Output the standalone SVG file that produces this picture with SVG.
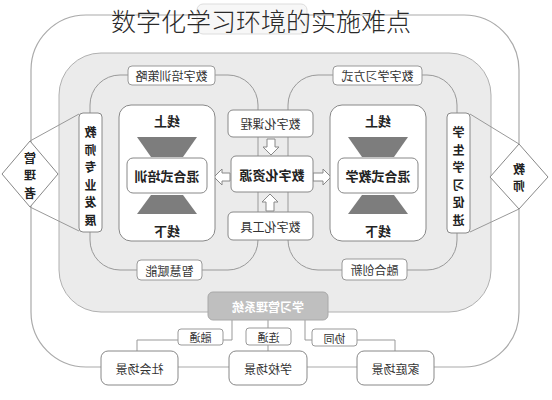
<svg xmlns="http://www.w3.org/2000/svg" width="552" height="400" viewBox="0 0 552 400">
<style>
text{font-family:"Noto Sans CJK SC","Noto Sans",sans-serif;dominant-baseline:central;text-anchor:middle;fill:#333}
.t{font-size:12px}
.b{font-size:13px;font-weight:bold;fill:#222}
.v{font-size:12px;font-weight:bold;fill:#222}
.lbl{fill:#fff;stroke:#999;stroke-width:1}
.box{fill:#fff;stroke:#888;stroke-width:1}
.ln{fill:none;stroke:#999;stroke-width:1}
.arr{fill:#fff;stroke:#888;stroke-width:1}
.trap{fill:#7d7d7d}
</style>
<rect id="outer-frame" x="31" y="15" width="488" height="352" rx="55" fill="#fff" stroke="#aaa" stroke-width="1.2"/>
<rect id="panel" x="59" y="53" width="432" height="259" rx="42" fill="#ebebeb" stroke="#b0b0b0" stroke-width="1"/>
<rect x="197" y="4" width="110" height="30" rx="6" fill="#f7f7f7" stroke="#ddd"/>
<g id="connectors">
<rect class="ln" x="90" y="75" width="168" height="195" rx="30"/>
<rect class="ln" x="288" y="75" width="169" height="195" rx="30"/>
<path class="ln" d="M30 141 L79 114 M30 207 L79 231 M470 114 L519 144 M470 232 L519 209"/>
<path class="ln" stroke="#777" d="M232 320 V340 H223 M178 340 H137 V351 M268 320 V328 M268 345 V351 M305 320 V340 H312 M357 340 H395 V351"/>
<path class="arr" d="M267 139 H275 V147 H279 L271 155 L263 147 H267 Z"/>
<path class="arr" d="M266 211 H274 V202 H278 L270 194 L262 202 H266 Z"/>
<path class="arr" d="M230 173 V181 H222 V185 L214 177 L222 169 V173 Z"/>
<path class="arr" d="M313 173 V181 H323 V185 L331 177 L323 169 V173 Z"/>
</g>
<g id="label-peixun"><rect class="lbl" x="128" y="66" width="87" height="19" rx="4"/><text class="t" x="171.5" y="75.5" transform="matrix(-1 0 0 1 343 0)">数字培训策略</text></g>
<g id="label-xuexi"><rect class="lbl" x="333" y="66" width="89" height="19" rx="4"/><text class="t" x="377.5" y="75.5" transform="matrix(-1 0 0 1 755 0)">数字学习方式</text></g>
<g id="label-zhihui"><rect class="lbl" x="137" y="260" width="65" height="20" rx="4"/><text class="t" x="169.5" y="270" transform="matrix(-1 0 0 1 339 0)">智慧赋能</text></g>
<g id="label-ronghe"><rect class="lbl" x="342" y="259" width="65" height="21" rx="4"/><text class="t" x="374.5" y="269.5" transform="matrix(-1 0 0 1 749 0)">融合创新</text></g>
<g id="node-jiaoshi-fazhan"><rect class="box" x="79" y="113" width="23" height="119" rx="4"/>
<text class="v" transform="matrix(-1 0 0 1 181 0)"><tspan x="90.5" y="131">教</tspan><tspan x="90.5" y="148.5">师</tspan><tspan x="90.5" y="166">专</tspan><tspan x="90.5" y="183.5">业</tspan><tspan x="90.5" y="201">发</tspan><tspan x="90.5" y="218.5">展</tspan></text></g>
<g id="node-xuesheng"><rect class="box" x="447" y="113" width="23" height="120" rx="4"/>
<text class="v" transform="matrix(-1 0 0 1 917 0)"><tspan x="458.5" y="131">学</tspan><tspan x="458.5" y="148.5">生</tspan><tspan x="458.5" y="166">学</tspan><tspan x="458.5" y="183.5">习</tspan><tspan x="458.5" y="201">促</tspan><tspan x="458.5" y="218.5">进</tspan></text></g>
<g id="node-guanlizhe"><polygon class="box" points="30,141 58,174 30,207 2,174"/>
<text class="v" transform="matrix(-1 0 0 1 60 0)"><tspan x="30" y="156.5">管</tspan><tspan x="30" y="174">理</tspan><tspan x="30" y="191.5">者</tspan></text></g>
<g id="node-jiaoshi"><polygon class="box" points="519,144 548,177 519,209 490,177"/>
<text class="v" transform="matrix(-1 0 0 1 1038 0)"><tspan x="519" y="167.5">教</tspan><tspan x="519" y="185">师</tspan></text></g>
<g id="node-peixun"><rect class="box" x="119" y="105" width="96" height="136" rx="12"/>
<text class="b" x="167" y="120" transform="matrix(-1 0 0 1 334 0)">线上</text>
<polygon class="trap" points="137,137 197,137 183,157 151,157"/>
<rect class="box" x="127" y="158" width="80" height="35" rx="6"/>
<text class="b" x="167" y="175.5" transform="matrix(-1 0 0 1 334 0)">混合式培训</text>
<polygon class="trap" points="151,195 183,195 197,214 137,214"/>
<text class="b" x="167" y="230" transform="matrix(-1 0 0 1 334 0)">线下</text></g>
<g id="node-jiaoxue"><rect class="box" x="330" y="105" width="96" height="136" rx="12"/>
<text class="b" x="378" y="120" transform="matrix(-1 0 0 1 756 0)">线上</text>
<polygon class="trap" points="348,137 408,137 394,157 362,157"/>
<rect class="box" x="338" y="158" width="80" height="35" rx="6"/>
<text class="b" x="378" y="175.5" transform="matrix(-1 0 0 1 756 0)">混合式教学</text>
<polygon class="trap" points="362,195 394,195 408,214 348,214"/>
<text class="b" x="378" y="230" transform="matrix(-1 0 0 1 756 0)">线下</text></g>
<g id="node-kecheng"><rect class="box" x="228" y="110" width="85" height="27" rx="5"/><text class="t" x="270.5" y="123.5" transform="matrix(-1 0 0 1 541 0)">数字化课程</text></g>
<g id="node-ziyuan"><rect class="box" x="231" y="156" width="82" height="36" rx="5"/><text class="b" x="272" y="174" transform="matrix(-1 0 0 1 544 0)">数字化资源</text></g>
<g id="node-gongju"><rect class="box" x="228" y="212" width="85" height="28" rx="5"/><text class="t" x="270.5" y="226" transform="matrix(-1 0 0 1 541 0)">数字化工具</text></g>
<g id="node-lms"><rect x="208" y="292" width="120" height="28" rx="5" fill="#bfbfbf" stroke="#a8a8a8"/><text class="t" x="268" y="306" style="fill:#fff;font-weight:bold" transform="matrix(-1 0 0 1 536 0)">学习管理系统</text></g>
<g id="label-rongtong"><rect class="lbl" x="178" y="329" width="45" height="16" rx="3"/><text class="t" x="200.5" y="337" style="font-size:11px" transform="matrix(-1 0 0 1 401 0)">融通</text></g>
<g id="label-liantong"><rect class="lbl" x="246" y="328" width="45" height="17" rx="3"/><text class="t" x="268.5" y="336.5" style="font-size:11px" transform="matrix(-1 0 0 1 537 0)">连通</text></g>
<g id="label-xietong"><rect class="lbl" x="312" y="329" width="45" height="17" rx="3"/><text class="t" x="334.5" y="337.5" style="font-size:11px" transform="matrix(-1 0 0 1 669 0)">协同</text></g>
<g id="node-shehui"><rect class="box" x="101" y="351" width="77" height="34" rx="7"/><text class="t" x="139.5" y="368" transform="matrix(-1 0 0 1 279 0)">社会场景</text></g>
<g id="node-xuexiao"><rect class="box" x="229" y="351" width="78" height="34" rx="7"/><text class="t" x="268" y="368" transform="matrix(-1 0 0 1 536 0)">学校场景</text></g>
<g id="node-jiating"><rect class="box" x="357" y="351" width="77" height="34" rx="7"/><text class="t" x="395.5" y="368" transform="matrix(-1 0 0 1 791 0)">家庭场景</text></g>
<text x="261" y="20" style="font-size:25px;font-weight:300;fill:#2a2a2a">数字化学习环境的实施难点</text>
</svg>
